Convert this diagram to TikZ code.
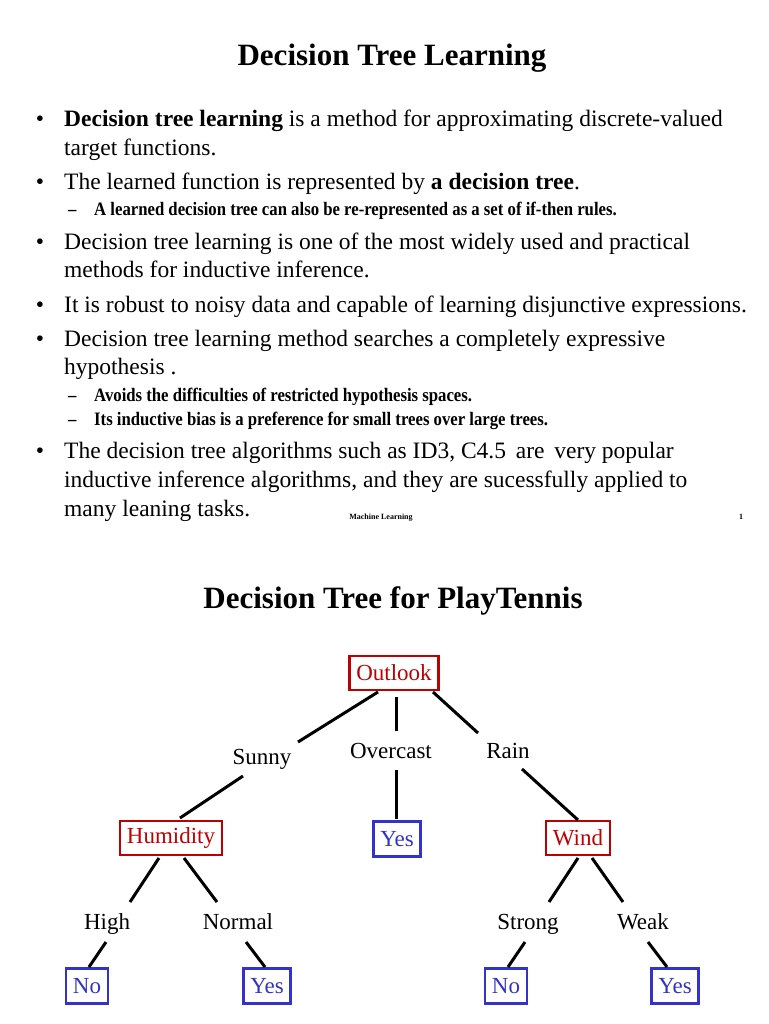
\documentclass[tikz,border=0pt]{standalone}
\usepackage{fontspec}
\setmainfont{Liberation Serif}
\newfontfamily\subfont[FakeStretch=0.88]{Liberation Serif}
\usetikzlibrary{calc}
\definecolor{boxred}{RGB}{192,0,0}
\definecolor{boxblue}{RGB}{51,51,204}
\tikzset{
  body/.style={anchor=base west, inner sep=0pt, font=\fontsize{23.5}{28}\selectfont},
  subtxt/.style={anchor=base west, inner sep=0pt, font=\subfont\fontsize{19}{22}\selectfont\bfseries},
  bul/.style={anchor=base, inner sep=0pt, font=\fontsize{23.5}{28}\selectfont},
  ttl/.style={anchor=base, inner sep=0pt, font=\fontsize{31}{36}\selectfont\bfseries},
  attr/.style={draw=boxred, text=boxred, line width=2.8pt, inner xsep=7pt, minimum height=34pt, font=\fontsize{23}{27}\selectfont},
  leaf/.style={draw=boxblue, text=boxblue, line width=2.8pt, inner xsep=7pt, minimum height=35pt, font=\fontsize{23}{27}\selectfont},
  val/.style={anchor=base, inner sep=0pt, font=\fontsize{23}{27}\selectfont},
  edge/.style={line width=3pt, black},
  foot/.style={anchor=base, inner sep=0pt, font=\fontsize{8}{9}\selectfont\bfseries}
}
\begin{document}
\begin{tikzpicture}[x=1pt,y=-1pt]
\useasboundingbox[fill=white] (0,0) rectangle (768,1024);
% ---- slide 1 ----
\node[ttl] (t1) at (392,66) {Decision Tree Learning};
\node[bul] (d1) at (40,127) {•};
\node[body] (l1a) at (64,127) {\textbf{Decision tree learning} is a method for approximating discrete-valued};
\node[body] (l1b) at (64,156) {target functions.};
\node[bul] (d2) at (40,190) {•};
\node[body] (l2a) at (64,190) {The learned function is represented by \textbf{a decision tree}.};
\node[subtxt] (s1dash) at (68,216) {–};
\node[subtxt] (s1) at (94,216) {A learned decision tree can also be re-represented as a set of if-then rules.};
\node[bul] (d3) at (40,249) {•};
\node[body] (l3a) at (64,249) {Decision tree learning is one of the most widely used and practical};
\node[body] (l3b) at (64,277) {methods for inductive inference.};
\node[bul] (d4) at (40,312) {•};
\node[body] (l4a) at (64,312) {It is robust to noisy data and capable of learning disjunctive expressions.};
\node[bul] (d5) at (40,346) {•};
\node[body] (l5a) at (64,346) {Decision tree learning method searches a completely expressive};
\node[body] (l5b) at (64,374) {hypothesis .};
\node[subtxt] (s2dash) at (68,401) {–};
\node[subtxt] (s2) at (94,401) {Avoids the difficulties of restricted hypothesis spaces.};
\node[subtxt] (s3dash) at (68,425) {–};
\node[subtxt] (s3) at (94,425) {Its inductive bias is a preference for small trees over large trees.};
\node[bul] (d6) at (40,458) {•};
\node[body] (l6a) at (64,458) {The decision tree algorithms such as ID3, C4.5\, are\, very popular};
\node[body] (l6b) at (64,487) {inductive inference algorithms, and they are sucessfully applied to};
\node[body] (l6c) at (64,516) {many leaning tasks.};
\node[foot] (f1) at (381,519) {Machine Learning};
\node[foot] (f2) at (741,519) {1};
% ---- slide 2 ----
\node[ttl] (t2) at (393,608) {Decision Tree for PlayTennis};
\node[attr] (outlook) at (394,673) {Outlook};
\node[val] (sunny) at (262,764) {Sunny};
\node[val] (overcast) at (391,758) {Overcast};
\node[val] (rain) at (508,758) {Rain};
\node[attr] (humidity) at (171,838) {Humidity};
\node[leaf] (yes1) at (397,839) {Yes};
\node[attr] (wind) at (578,838) {Wind};
\node[val] (high) at (107,929) {High};
\node[val] (normal) at (238,929) {Normal};
\node[val] (strong) at (528,929) {Strong};
\node[val] (weak) at (643,929) {Weak};
\node[leaf] (no1) at (87,986) {No};
\node[leaf] (yes2) at (267,986) {Yes};
\node[leaf] (no2) at (506,986) {No};
\node[leaf] (yes3) at (675,986) {Yes};
% connectors
\draw[edge] ($(outlook)+(-16,19)$) -- ($(sunny.base)+(36,-22)$);
\draw[edge] ($(outlook)+(2,24)$) -- ($(overcast.base)+(5,-27)$);
\draw[edge] ($(outlook)+(39,19)$) -- ($(rain.base)+(-30,-25)$);
\draw[edge] ($(sunny.base)+(-19,12)$) -- ($(humidity)+(9,-20)$);
\draw[edge] ($(overcast.base)+(5,12)$) -- ($(yes1)+(-1,-20)$);
\draw[edge] ($(rain.base)+(14,11)$) -- ($(wind)+(0,-18)$);
\draw[edge] ($(humidity)+(-12,20)$) -- ($(high.base)+(23,-27)$);
\draw[edge] ($(humidity)+(13,20)$) -- ($(normal.base)+(-21,-27)$);
\draw[edge] ($(high.base)+(-1,13)$) -- ($(no1)+(2,-19)$);
\draw[edge] ($(normal.base)+(8,13)$) -- ($(yes2)+(-2,-19)$);
\draw[edge] ($(wind)+(0,20)$) -- ($(strong.base)+(21,-27)$);
\draw[edge] ($(wind)+(14,20)$) -- ($(weak.base)+(-20,-27)$);
\draw[edge] ($(strong.base)+(-3,13)$) -- ($(no2)+(2,-19)$);
\draw[edge] ($(weak.base)+(5,13)$) -- ($(yes3)+(-8,-19)$);
\end{tikzpicture}
\end{document}
